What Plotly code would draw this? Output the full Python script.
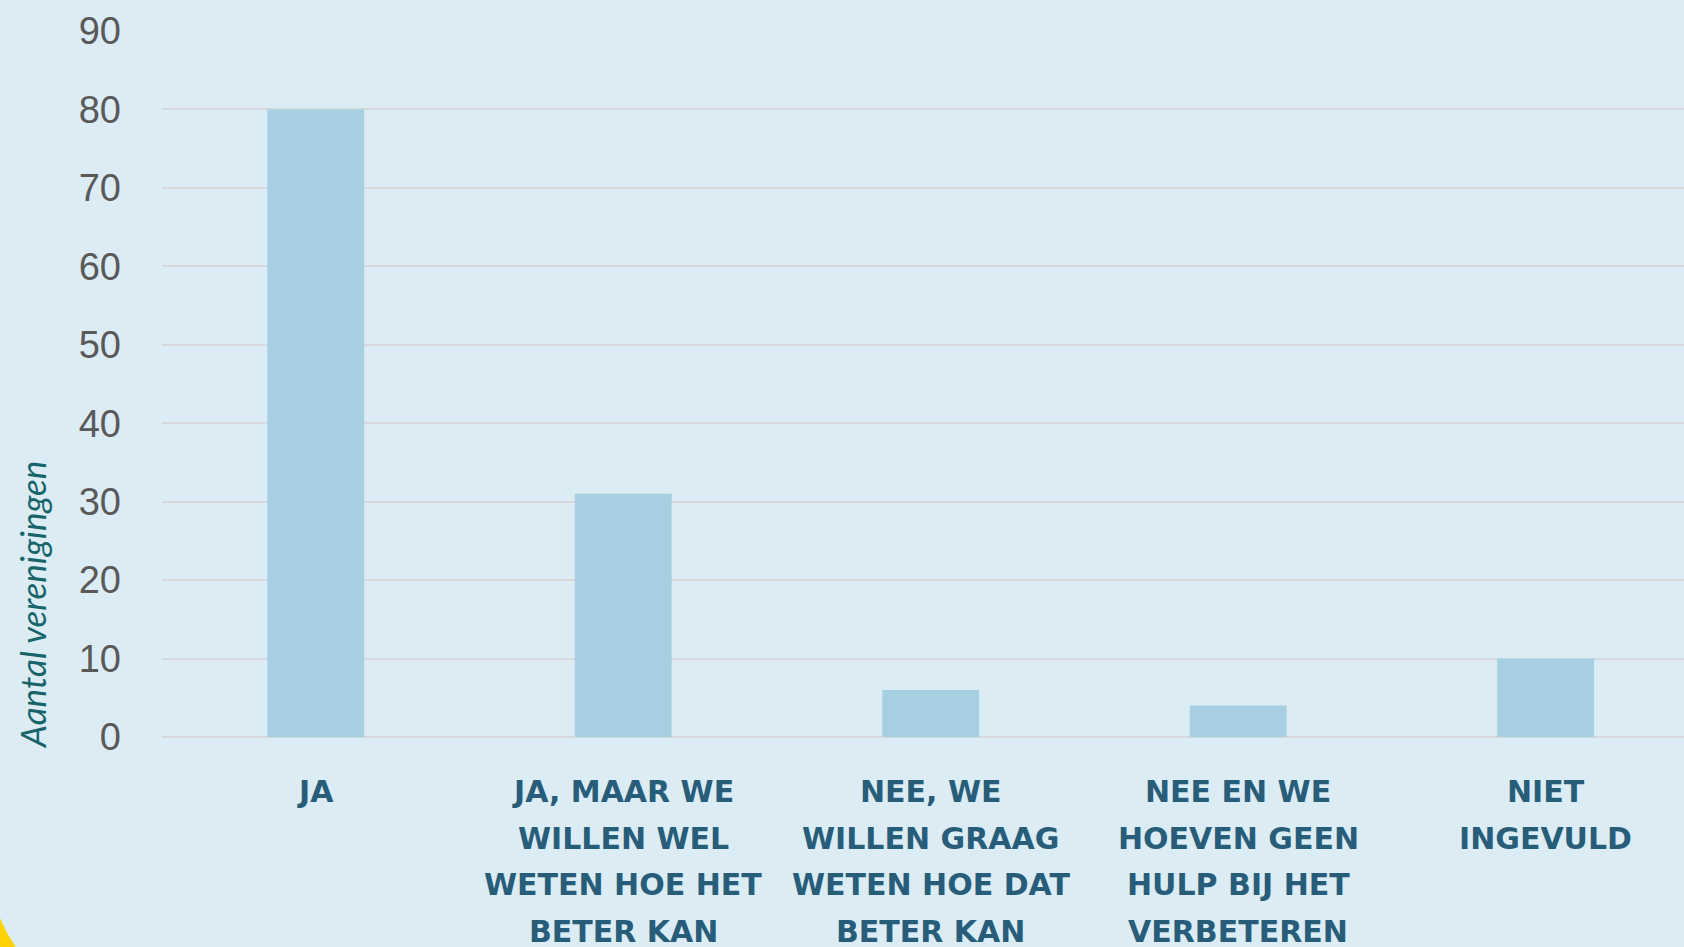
import plotly.graph_objects as go

categories = ["Ja", "Ja, maar we willen wel weten hoe het beter kan",
              "Nee, we willen graag weten hoe dat beter kan",
              "Nee en we hoeven geen hulp bij het verbeteren",
              "Niet ingevuld"]
values = [80, 31, 6, 4, 10]
label_lines = [
    ["JA"],
    ["JA, MAAR WE", "WILLEN WEL", "WETEN HOE HET", "BETER KAN"],
    ["NEE, WE", "WILLEN GRAAG", "WETEN HOE DAT", "BETER KAN"],
    ["NEE EN WE", "HOEVEN GEEN", "HULP BIJ HET", "VERBETEREN"],
    ["NIET", "INGEVULD"],
]
y_ticks = list(range(0, 91, 10))

bg = "#dbecf4"

fig = go.Figure()
fig.add_trace(go.Bar(x=categories, y=values, width=0.315,
                     marker=dict(color="#a6cfe1", line=dict(width=0)),
                     hoverinfo="x+y"))

# category labels, one annotation per line so the line spacing can match
for cat, lines in zip(categories, label_lines):
    for i, line in enumerate(lines):
        fig.add_annotation(x=cat, y=0, xref="x", yref="y", text=line,
                           showarrow=False, xanchor="center", yanchor="top",
                           yshift=-35 - i * 46.5,
                           font=dict(family="DejaVu Sans", size=30, color="#285d7a", weight="bold"))

# y axis title
fig.add_annotation(x=-0.0854, y=0.187, xref="paper", yref="paper",
                   text="<i>Aantal verenigingen</i>", textangle=-90, showarrow=False,
                   xanchor="center", yanchor="middle",
                   font=dict(family="Lato", size=35, color="#17656b"))

# little yellow corner from the background
fig.add_shape(type="path", xref="paper", yref="paper",
              path="M -0.1064,-0.2563 Q -0.1020,-0.2790 -0.0960,-0.2975 L -0.1064,-0.2975 Z",
              fillcolor="#ffd200", line=dict(width=0))

fig.update_layout(
    width=1684, height=947,
    margin=dict(l=162, r=0, t=31, b=210),
    paper_bgcolor=bg, plot_bgcolor=bg,
    showlegend=False,
    xaxis=dict(range=[-0.5, 4.45], showticklabels=False, showgrid=False,
               zeroline=False, showline=False, fixedrange=True),
    yaxis=dict(range=[0, 90], tickvals=y_ticks, showgrid=True, gridcolor="#d6d9dc",
               gridwidth=2, zeroline=True, zerolinecolor="#d6d9dc", zerolinewidth=2,
               showline=False, ticklabelstandoff=40,
               tickfont=dict(family="Liberation Sans", size=38, color="#595959")),
)

fig.write_html("out.html", config={"displayModeBar": False},
               post_script="document.body.style.margin='0';")
